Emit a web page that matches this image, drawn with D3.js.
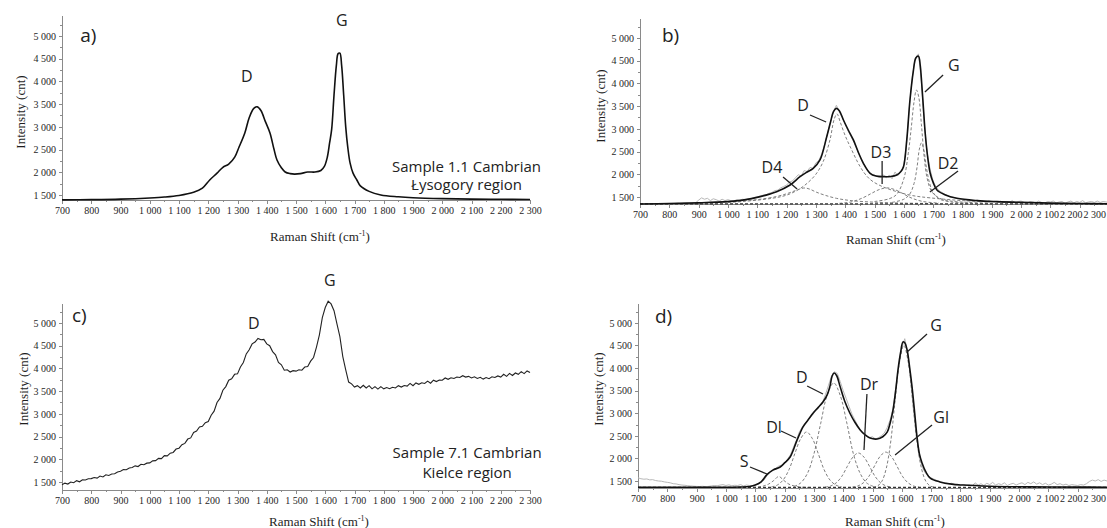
<!DOCTYPE html>
<html><head><meta charset="utf-8">
<script src="https://cdn.jsdelivr.net/npm/d3@7"></script>
<style>
body{margin:0;background:#fff;}
svg{display:block;}
.axis .tick text{font-family:"Liberation Serif","DejaVu Serif","Times New Roman",serif;font-size:10px;fill:#262626;}
.axis path,.axis line{stroke:#8a8a8a;stroke-width:1;shape-rendering:crispEdges;}
.ttl{font-family:"Liberation Serif","DejaVu Serif","Times New Roman",serif;font-size:13px;fill:#1e1e1e;}
.ann{font-family:"Open Sans",sans-serif;fill:#222;}
</style></head><body>
<svg id="chart" width="1107" height="528"></svg>
<script>
// ---------------- DATA ----------------
const xTicks = [700,800,900,1000,1100,1200,1300,1400,1500,1600,1700,1800,1900,2000,2100,2200,2300];
const xMinor = [750,850,950,1050,1150,1250,1350,1450,1550,1650,1750,1850,1950,2050,2150,2250];
const yTicks = [1500,2000,2500,3000,3500,4000,4500,5000];
const yMinor = [1750,2250,2750,3250,3750,4250,4750,5250];
const rawStart = 700, rawEnd = 2300, rawStep = 10;

// a) fitted spectrum, sample 1.1
const aFit = [[700,1392],[800,1398],[900,1410],[1000,1435],[1050,1455],[1100,1490],[1150,1560],[1180,1650],[1205,1830],[1230,1980],[1250,2110],[1270,2180],[1291,2340],[1305,2550],[1325,2865],[1340,3200],[1355,3400],[1367,3440],[1380,3360],[1395,3120],[1411,2865],[1425,2500],[1435,2270],[1450,2100],[1463,2006],[1480,1970],[1495,1960],[1515,1970],[1540,2005],[1565,2005],[1585,2040],[1597,2130],[1607,2330],[1615,2650],[1622,2950],[1630,3700],[1638,4350],[1644,4610],[1650,4620],[1656,4350],[1663,3700],[1670,3000],[1677,2550],[1685,2200],[1695,1980],[1708,1830],[1720,1700],[1750,1580],[1790,1500],[1850,1460],[1900,1440],[2000,1420],[2100,1410],[2200,1405],[2300,1400]];

// b) raw spectrum (700..2300 step 10), fit and components
const bRaw = [1345,1350,1342,1348,1352,1346,1350,1355,1349,1354,
1358,1352,1357,1361,1356,1362,1365,1360,1367,1372,
1430,1480,1450,1470,1420,1460,1440,1410,1450,1420,
1440,1420,1410,1440,1420,1450,1440,1460,1470,1490,
1500,1520,1540,1550,1580,1600,1640,1650,1700,1730,
1760,1830,1850,1920,1990,1960,2080,2060,2150,2130,
2250,2300,2450,2650,2900,3150,3380,3520,3380,3250,
3100,2950,2830,2700,2550,2400,2280,2150,2060,2000,
1980,1950,1930,1990,1920,1980,1900,2050,1970,2060,
2200,2700,3550,4200,4560,4650,4050,3100,2450,2100,
1850,1720,1640,1600,1560,1530,1500,1490,1470,1460,
1440,1430,1420,1410,1400,1430,1390,1410,1380,1420,
1390,1400,1380,1410,1370,1400,1380,1420,1370,1400,
1410,1380,1360,1400,1390,1370,1410,1380,1360,1400,
1390,1410,1370,1390,1400,1360,1390,1410,1370,1400,
1380,1420,1370,1390,1400,1380,1410,1380,1400,1390,
1380];
const bFit = [[700,1345],[800,1355],[900,1370],[1000,1397],[1050,1430],[1110,1507],[1166,1617],[1212,1764],[1246,1947],[1270,2050],[1291,2130],[1314,2314],[1337,2827],[1350,3150],[1360,3380],[1370,3450],[1380,3400],[1394,3195],[1410,2980],[1428,2755],[1445,2480],[1462,2241],[1485,2021],[1505,1960],[1530,1947],[1555,1950],[1576,1984],[1590,2060],[1599,2167],[1610,2750],[1621,3635],[1632,4250],[1641,4560],[1650,4600],[1656,4400],[1661,4003],[1667,3450],[1673,2902],[1681,2400],[1690,2021],[1700,1820],[1713,1654],[1740,1550],[1781,1471],[1850,1420],[1918,1397],[2000,1380],[2100,1365],[2200,1355],[2300,1350]];
const bD4 = [[900,1370],[1000,1395],[1060,1420],[1110,1450],[1166,1510],[1200,1570],[1230,1640],[1250,1685],[1263,1698],[1280,1670],[1300,1610],[1330,1540],[1370,1470],[1420,1420],[1500,1385],[1600,1365],[1700,1355]];
const bD = [[1000,1380],[1050,1400],[1150,1470],[1200,1540],[1240,1660],[1270,1800],[1300,2000],[1325,2280],[1348,2755],[1362,3200],[1372,3330],[1383,3150],[1400,2850],[1417,2607],[1451,2167],[1475,1950],[1495,1837],[1530,1720],[1576,1617],[1630,1530],[1690,1480],[1800,1420],[1900,1395],[2000,1380]];
const bD3 = [[1380,1360],[1420,1390],[1460,1480],[1490,1580],[1515,1660],[1542,1700],[1570,1660],[1595,1580],[1625,1480],[1665,1400],[1720,1365]];
const bG = [[1500,1400],[1550,1460],[1576,1560],[1600,1900],[1615,2450],[1625,3000],[1635,3600],[1643,3855],[1651,3700],[1660,3100],[1670,2350],[1680,1900],[1695,1620],[1720,1480],[1760,1410],[1820,1380],[1900,1360]];
const bD2 = [[1560,1380],[1600,1450],[1620,1560],[1635,1800],[1645,2150],[1653,2550],[1660,2690],[1668,2550],[1677,2150],[1688,1800],[1700,1600],[1720,1460],[1760,1390],[1820,1360]];
const bBase = [[700,1348],[2300,1348]];

// c) raw spectrum, sample 7.1 (700..2300 step 10)
const cSpec = [1440,1475,1455,1500,1485,1530,1505,1550,1545,1570,
1575,1600,1585,1630,1610,1660,1645,1675,1680,1720,
1735,1775,1770,1810,1820,1855,1840,1890,1880,1915,
1920,1965,1970,2020,2015,2080,2075,2135,2150,2225,
2245,2320,2350,2445,2470,2590,2620,2710,2725,2805,
2830,2970,3060,3250,3340,3520,3600,3740,3770,3870,
3880,4030,4130,4320,4410,4540,4580,4660,4630,4640,
4540,4500,4370,4300,4130,4080,3960,3970,3920,3950,
3940,3970,3960,4030,4040,4160,4240,4470,4740,5120,
5340,5480,5420,5270,4980,4700,4260,3970,3700,3660,
3590,3620,3570,3630,3570,3620,3550,3600,3545,3600,
3550,3580,3555,3585,3570,3620,3590,3625,3610,3670,
3620,3680,3650,3685,3670,3720,3675,3740,3710,3745,
3740,3790,3760,3795,3780,3810,3800,3840,3810,3825,
3790,3815,3780,3805,3765,3800,3775,3815,3800,3835,
3810,3870,3825,3890,3845,3900,3870,3930,3885,3945,
3910];

// d) raw spectrum (700..2300 step 10), fit and components
const dRaw = [1570,1550,1540,1545,1525,1530,1510,1500,1495,1480,
1470,1460,1440,1435,1420,1410,1405,1395,1390,1385,
1380,1378,1382,1376,1380,1390,1400,1395,1410,1420,
1400,1415,1395,1405,1400,1420,1390,1410,1400,1395,
1410,1430,1470,1520,1620,1700,1740,1780,1830,1850,
1900,1980,2080,2240,2400,2580,2690,2780,2850,2920,
3000,3080,3170,3250,3420,3620,3820,3920,3880,3700,
3500,3330,3150,2980,2850,2720,2620,2540,2490,2460,
2480,2430,2460,2500,2560,2680,2850,3100,3600,4050,
4450,4650,4350,3750,3050,2500,2050,1800,1680,1620,
1570,1540,1510,1480,1470,1460,1440,1450,1420,1430,
1410,1420,1400,1410,1390,1460,1410,1440,1400,1450,
1420,1470,1410,1440,1420,1460,1400,1430,1450,1410,
1440,1460,1420,1470,1440,1480,1430,1460,1420,1450,
1410,1430,1470,1420,1440,1410,1430,1400,1420,1410,
1400,1420,1410,1440,1490,1520,1500,1530,1490,1520,
1500];
const dFit = [[700,1360],[800,1360],[900,1360],[1000,1362],[1050,1367],[1082,1380],[1100,1410],[1120,1480],[1140,1640],[1160,1740],[1185,1810],[1200,1900],[1219,2030],[1243,2410],[1263,2700],[1280,2850],[1297,3000],[1315,3130],[1331,3250],[1345,3400],[1355,3600],[1362,3820],[1369,3890],[1378,3830],[1389,3600],[1405,3270],[1423,3000],[1440,2800],[1458,2630],[1475,2520],[1492,2450],[1516,2430],[1535,2480],[1550,2580],[1560,2780],[1570,3070],[1580,3550],[1587,3960],[1596,4350],[1604,4580],[1610,4560],[1618,4400],[1627,4000],[1635,3580],[1644,3000],[1652,2470],[1660,2100],[1669,1900],[1682,1700],[1697,1565],[1730,1480],[1770,1430],[1809,1410],[1900,1385],[2038,1370],[2200,1365],[2300,1362]];
const dS = [[1075,1357],[1110,1367],[1128,1390],[1145,1430],[1163,1510],[1180,1600],[1198,1510],[1215,1430],[1233,1390],[1250,1367],[1285,1357]];
const dDl = [[1155,1369],[1175,1409],[1195,1521],[1215,1749],[1235,2105],[1255,2437],[1275,2585],[1295,2437],[1315,2105],[1335,1749],[1355,1521],[1375,1409],[1395,1369]];
const dD = [[1233,1380],[1255,1457],[1278,1668],[1300,2096],[1323,2767],[1345,3392],[1368,3670],[1390,3392],[1413,2767],[1435,2096],[1458,1668],[1480,1457],[1503,1380]];
const dDr = [[1338,1363],[1357,1389],[1376,1458],[1395,1600],[1414,1822],[1433,2028],[1452,2120],[1471,2028],[1490,1822],[1509,1600],[1528,1458],[1547,1389],[1566,1363]];
const dGl = [[1431,1364],[1450,1390],[1469,1461],[1488,1606],[1507,1834],[1526,2046],[1545,2140],[1564,2046],[1583,1834],[1602,1606],[1621,1461],[1640,1390],[1659,1364]];
const dG = [[1502,1363],[1517,1390],[1532,1494],[1547,1780],[1562,2363],[1577,3277],[1592,4127],[1607,4505],[1622,4127],[1637,3277],[1652,2363],[1667,1780],[1682,1494],[1697,1390],[1712,1363]];
const dBase = [[700,1360],[2300,1360]];

// annotations (data units): text, x, y, [leader x1,y1,x2,y2]
const aLabels = [["D",1332,3986],["G",1657,5218]];
const bLabels = [["D",1256,3392,[1280,3304,1335,3150]],["D4",1150,2027,[1188,1939,1236,1675]],["D3",1522,2358,[1526,2292,1526,1785]],["D2",1751,2116,[1785,2072,1689,1609]],["G",1771,4273,[1734,4185,1672,3811]]];
const cLabels = [["D",1356,4868],["G",1616,5814]];
const dLabels = [["S",1062,1810,[1082,1810,1140,1655]],["Dl",1164,2562,[1188,2607,1239,2452]],["D",1259,3669,[1277,3603,1331,3426]],["Dr",1488,3514,[1481,3426,1471,2186]],["G",1717,4820,[1686,4754,1618,4355]],["Gl",1734,2784,[1703,2739,1577,2075]]];
const panelTags = ["a)","b)","c)","d)"];
const sampleA = ["Sample 1.1 Cambrian","Łysogory region"];
const sampleC = ["Sample 7.1 Cambrian","Kielce region"];

// ---------------- LAYOUT ----------------
const W = 1107;
const layout = {
  a:{x:[62,530],  y:[200,15],  yDom:[1390,5460], yT:[20,112],  xT:[320,241], tag:[762,4866], sample:[sampleA,2083,2006,1610]},
  b:{x:[640,1109],y:[204,18],  yDom:[1345,5440], yT:[600,106], xT:[896,244], tag:[775,4912]},
  c:{x:[62,530],  y:[490,303], yDom:[1324,5440], yT:[23,389],  xT:[319,526], tag:[734,5022], sample:[sampleC,2085,2028,1588]},
  d:{x:[638,1107],y:[488,303], yDom:[1345,5440], yT:[598,389], xT:[895,526], tag:[758,4997]}
};

const fmt = d3.formatLocale({decimal:".",thousands:" ",grouping:[3],currency:["",""]}).format(",");
const svg = d3.select("#chart");
const rawX = d3.range(rawStart, rawEnd + 1, rawStep);
const toPairs = arr => arr.map((v,i)=>[rawX[i], v]);

// keep tick labels inside the picture: nudge overflowing labels and their neighbours left
function fitTickLabels(axisG){
  const texts = axisG.selectAll(".tick text").nodes();
  let limit = W - 1;
  for (let i = texts.length - 1; i >= 0; i--){
    const t = texts[i];
    const r = t.getBoundingClientRect();
    if (r.right > limit){
      const shift = limit - r.right;
      t.setAttribute("dx", shift);
      limit = r.left + shift - 1;
    } else break;
  }
}

function makePanel(key, tagText){
  const L = layout[key];
  const g = svg.append("g");
  const x = d3.scaleLinear().domain([700,2300]).range(L.x);
  const y = d3.scaleLinear().domain(L.yDom).range(L.y);
  g.append("g").attr("class","axis").attr("transform",`translate(0,${L.y[0]})`)
    .call(d3.axisBottom(x).tickValues(xMinor).tickSize(2).tickFormat(""))
    .call(s=>s.select(".domain").remove());
  const xa = g.append("g").attr("class","axis").attr("transform",`translate(0,${L.y[0]})`)
    .call(d3.axisBottom(x).tickValues(xTicks).tickSize(4).tickSizeOuter(0).tickPadding(3).tickFormat(fmt));
  fitTickLabels(xa);
  g.append("g").attr("class","axis").attr("transform",`translate(${L.x[0]},0)`)
    .call(d3.axisLeft(y).tickValues(yMinor).tickSize(2).tickFormat(""))
    .call(s=>s.select(".domain").remove());
  g.append("g").attr("class","axis").attr("transform",`translate(${L.x[0]},0)`)
    .call(d3.axisLeft(y).tickValues(yTicks).tickSize(3).tickSizeOuter(0).tickPadding(3).tickFormat(fmt));
  g.append("text").attr("class","ttl").attr("text-anchor","middle")
    .attr("transform",`translate(${L.yT[0]},${L.yT[1]}) rotate(-90)`).attr("dy","0.35em").text("Intensity (cnt)");
  const xt = g.append("text").attr("class","ttl").attr("text-anchor","middle").attr("x",L.xT[0]).attr("y",L.xT[1]);
  xt.append("tspan").text("Raman Shift (cm");
  xt.append("tspan").attr("font-size","8px").attr("dy","-5").text("-1");
  xt.append("tspan").attr("dy","5").text(")");
  g.append("text").attr("class","ann").attr("font-size","19px")
    .attr("x",x(L.tag[0])).attr("y",y(L.tag[1])).text(tagText);
  return {g,x,y,L};
}

function line(P, data, curve){
  return d3.line().x(d=>P.x(d[0])).y(d=>P.y(d[1])).curve(curve||d3.curveCatmullRom.alpha(0.5))(data);
}
function drawRaw(P, data){ P.g.append("path").attr("d",line(P,data,d3.curveLinear)).attr("fill","none").attr("stroke","#b8b8b8").attr("stroke-width",1); }
function drawComp(P, data){ P.g.append("path").attr("d",line(P,data)).attr("fill","none").attr("stroke","#707070").attr("stroke-width",0.9).attr("stroke-dasharray","3,2"); }
function drawBase(P, data){ P.g.append("path").attr("d",line(P,data,d3.curveLinear)).attr("fill","none").attr("stroke","#333").attr("stroke-width",1.2).attr("stroke-dasharray","3,2"); }
function drawFit(P, data, w){ P.g.append("path").attr("d",line(P,data)).attr("fill","none").attr("stroke","#111").attr("stroke-width",w||1.6).attr("stroke-linejoin","round"); }
function drawLabels(P, labels){
  labels.forEach(l=>{
    P.g.append("text").attr("class","ann").attr("font-size","16px").attr("text-anchor","middle")
      .attr("x",P.x(l[1])).attr("y",P.y(l[2])).text(l[0]);
    if(l[3]) P.g.append("line").attr("x1",P.x(l[3][0])).attr("y1",P.y(l[3][1])).attr("x2",P.x(l[3][2])).attr("y2",P.y(l[3][3]))
      .attr("stroke","#222").attr("stroke-width",1.3);
  });
}
function drawSample(P){
  const s = P.L.sample;
  P.g.append("text").attr("class","ann").attr("font-size","15px").attr("text-anchor","middle").attr("x",P.x(s[1])).attr("y",P.y(s[2])).text(s[0][0]);
  P.g.append("text").attr("class","ann").attr("font-size","15px").attr("text-anchor","middle").attr("x",P.x(s[1])).attr("y",P.y(s[3])).text(s[0][1]);
}

const A = makePanel("a", panelTags[0]);
drawFit(A, aFit, 1.6);
drawLabels(A, aLabels);
drawSample(A);

const B = makePanel("b", panelTags[1]);
drawRaw(B, toPairs(bRaw));
[bD4,bD,bD3,bG,bD2].forEach(c=>drawComp(B,c));
drawBase(B, bBase);
drawFit(B, bFit, 1.6);
drawLabels(B, bLabels);

const C = makePanel("c", panelTags[2]);
C.g.append("path").attr("d",line(C,toPairs(cSpec),d3.curveLinear)).attr("fill","none").attr("stroke","#222").attr("stroke-width",1.1);
drawLabels(C, cLabels);
drawSample(C);

const D = makePanel("d", panelTags[3]);
drawRaw(D, toPairs(dRaw));
[dS,dDl,dD,dDr,dGl,dG].forEach(c=>drawComp(D,c));
drawBase(D, dBase);
drawFit(D, dFit, 1.6);
drawLabels(D, dLabels);
</script>
</body></html>
